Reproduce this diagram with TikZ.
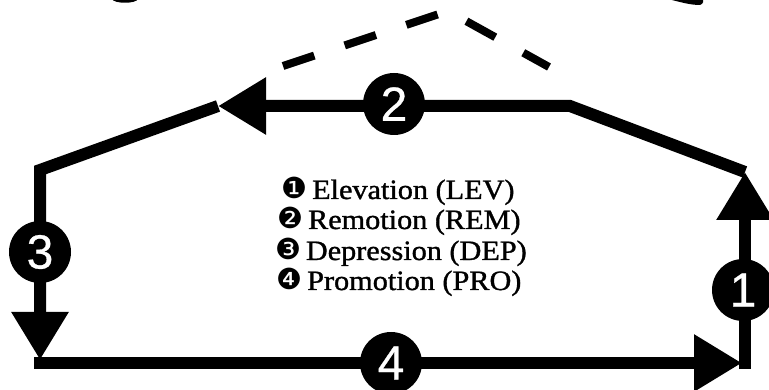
\documentclass[tikz,border=0pt]{standalone}
\usepackage{fontspec}
\setmainfont{Liberation Serif}
\newfontfamily\listfont[FakeStretch=1.08,FakeBold=1.2]{Liberation Serif}
\newfontfamily\numfont[FakeBold=0.6]{Liberation Sans}
\newfontfamily\dingfont{DejaVu Sans}
\usetikzlibrary{arrows.meta}
\newcommand{\bul}[1]{{\dingfont\fontsize{29}{29}\selectfont #1}\,}
\begin{document}
\begin{tikzpicture}[x=1pt,y=-1pt,
  edge/.style={line width=12pt, -{Triangle[length=48pt,width=54pt]}},
  dashline/.style={line width=8pt, dash pattern=on 33pt off 32pt},
  numdot/.style={circle, fill=black, text=white, minimum size=62pt, inner sep=0pt,
    font=\numfont\fontsize{48}{48}\selectfont},
  item/.style={anchor=base, font=\listfont\fontsize{28}{30}\selectfont}]
\useasboundingbox (0,0) rectangle (769,390);
\clip (0,0) rectangle (769,390);

% cut-off shapes at the top edge
\fill (112,-1) .. controls (114,4) and (136,4) .. (138,-1) -- cycle;
\fill (668,-1) .. controls (680,2) and (690,5) .. (700,5)
      .. controls (703,4) and (704,1) .. (703,-1) -- cycle;

% corners
\coordinate (BRs) at (745,369);
\coordinate (TRc) at (745,172);
\coordinate (TRk) at (570,106);
\coordinate (TL)  at (218,106);
\coordinate (LK)  at (40,170);
\coordinate (BLe) at (40,360);
\coordinate (BLs) at (34,363);
\coordinate (BRe) at (742,363);

% dashed roof
\coordinate (d1) at (283,66);
\coordinate (d2) at (448,11);
\coordinate (d3) at (549,67);
\draw[dashline] (d1) -- (d2) -- (d3);

% cycle
\draw[edge] (BRs) -- (TRc);
\draw[edge] (TRc) -- (TRk) -- (TL);
\draw[edge] (TL) -- (LK) -- (BLe);
\draw[edge] (BLs) -- (BRe);

% numbered circles
\node[numdot] (n1) at (743,290) {1};
\node[numdot] (n2) at (394,104) {2};
\node[numdot] (n3) at (40,252)  {3};
\node[numdot] (n4) at (391,363) {4};

% legend
\node[item] (l1) at (398,199) {\bul{❶}Elevation (LEV)};
\node[item] (l2) at (399,229) {\bul{❷}Remotion (REM)};
\node[item] (l3) at (401,260) {\bul{❸}Depression (DEP)};
\node[item] (l4) at (399,290) {\bul{❹}Promotion (PRO)};
\end{tikzpicture}
\end{document}
